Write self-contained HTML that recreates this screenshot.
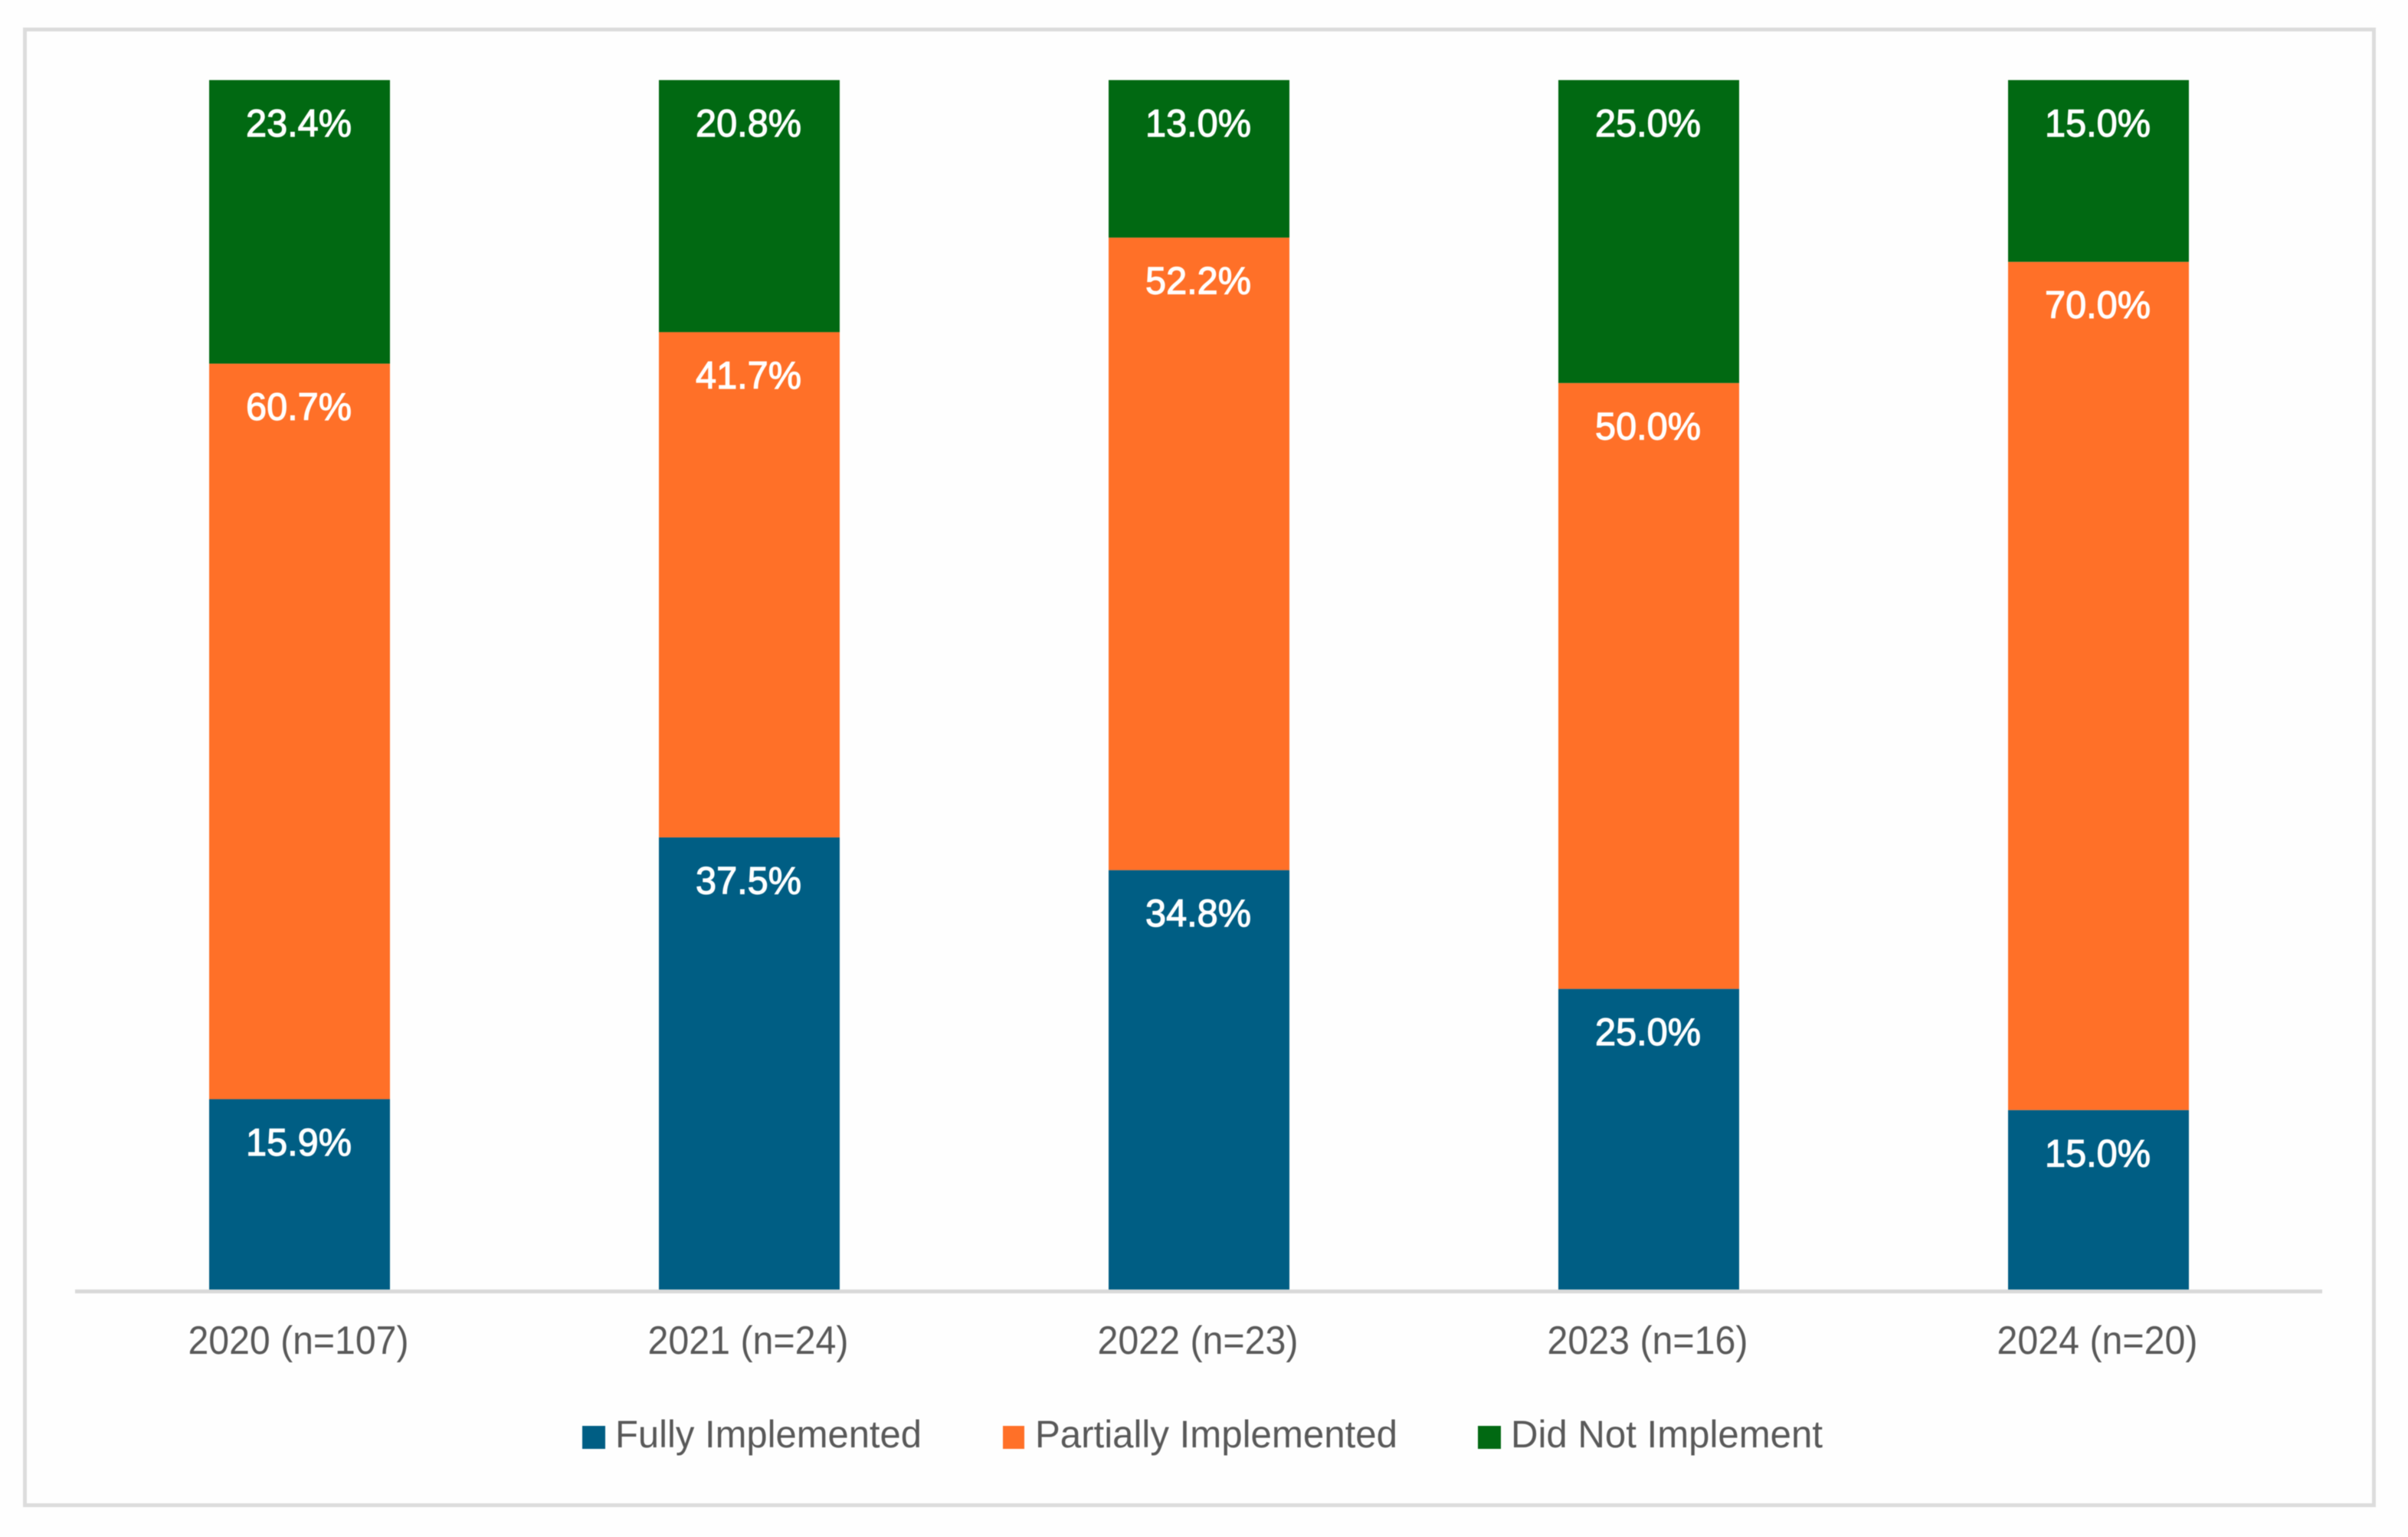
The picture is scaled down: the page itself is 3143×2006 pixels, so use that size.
<!DOCTYPE html>
<html lang="en">
<head>
<meta charset="utf-8">
<title>Implementation status by year</title>
<style>
  html, body { margin: 0; padding: 0; background: #fefefe; }
  body { width: 3143px; height: 2006px; overflow: hidden; }
  svg { display: block; font-family: "Liberation Sans", Arial, sans-serif; filter: blur(0.6px); }
  .value-label { fill: #fff; font-size: 50px; text-anchor: middle; stroke: #fff; stroke-width: 1.2px; }
  .category-label { fill: #595959; font-size: 52px; text-anchor: middle; }
  .legend-label { fill: #595959; font-size: 50px; }
</style>
</head>
<body>
<svg id="chart" xmlns="http://www.w3.org/2000/svg" width="3143" height="2006" viewBox="0 0 3143 2006">
  <rect x="0" y="0" width="3143" height="2006" fill="#fefefe"/>
  <rect x="32.5" y="38.5" width="3066" height="1926" fill="#fefefe" stroke="#dcdcdc" stroke-width="5"/>
  <g id="bars"></g>
  <rect x="98" y="1683" width="2933" height="5" fill="#d9d9d9"/>
  <g id="categories"></g>
  <g id="legend"></g>
</svg>
<script>
const categories = ['2020 (n=107)', '2021 (n=24)', '2022 (n=23)', '2023 (n=16)', '2024 (n=20)'];
const seriesNames = ['Fully Implemented', 'Partially Implemented', 'Did Not Implement'];
const fullyImplemented = [15.9, 37.5, 34.8, 25.0, 15.0];
const partiallyImplemented = [60.7, 41.7, 52.2, 50.0, 70.0];
const didNotImplement = [23.4, 20.8, 13.0, 25.0, 15.0];

const NS = 'http://www.w3.org/2000/svg';
const seriesValues = [fullyImplemented, partiallyImplemented, didNotImplement];
const seriesColors = ['#005e84', '#ff7028', '#016912'];
const seriesSlugs = ['fully-implemented', 'partially-implemented', 'did-not-implement'];

const plotLeft = 97.5, plotWidth = 2935, plotBottom = 1686, plotTop = 104.5, axisMax = 100, barWidth = 236;
const xCenter = i => plotLeft + plotWidth * (i + 0.5) / categories.length;
const yScale = v => plotBottom - (v / axisMax) * (plotBottom - plotTop);

function svgEl(tag, attrs, parent) {
  const el = document.createElementNS(NS, tag);
  for (const key in attrs) el.setAttribute(key, attrs[key]);
  parent.appendChild(el);
  return el;
}

const barsGroup = document.getElementById('bars');
const categoriesGroup = document.getElementById('categories');
const legendGroup = document.getElementById('legend');

categories.forEach((category, i) => {
  let cumulative = 0;
  seriesValues.forEach((values, s) => {
    const value = values[i];
    const yTop = yScale(cumulative + value);
    const yBottom = yScale(cumulative);
    const bar = svgEl('rect', { x: xCenter(i) - barWidth / 2, y: yTop, width: barWidth, height: yBottom - yTop, fill: seriesColors[s] }, barsGroup);
    
    
    const label = svgEl('text', { x: xCenter(i) - 1, y: yTop + 73.5, class: 'value-label', textLength: 138, lengthAdjust: 'spacingAndGlyphs' }, barsGroup);
    
    
    label.textContent = value.toFixed(1) + '%';
    cumulative += value;
  });
  const tick = svgEl('text', { x: xCenter(i) - 1.5, y: 1767, class: 'category-label', textLength: category.length > 11 ? 288 : 262, lengthAdjust: 'spacingAndGlyphs' }, categoriesGroup);
  
  
  tick.textContent = category;
});

const legendSwatchLeft = [760, 1309, 1929];
const legendTextLeft = [803, 1351, 1972];
const legendTextWidth = [400, 473, 407];
seriesNames.forEach((name, s) => {
  const swatch = svgEl('rect', { x: legendSwatchLeft[s], y: 1861, width: s === 1 ? 28 : 30, height: 30, fill: seriesColors[s] }, legendGroup);
  
  
  const text = svgEl('text', { x: legendTextLeft[s], y: 1889, class: 'legend-label', textLength: legendTextWidth[s], lengthAdjust: 'spacingAndGlyphs' }, legendGroup);
  
  
  text.textContent = name;
});
</script>
</body>
</html>
